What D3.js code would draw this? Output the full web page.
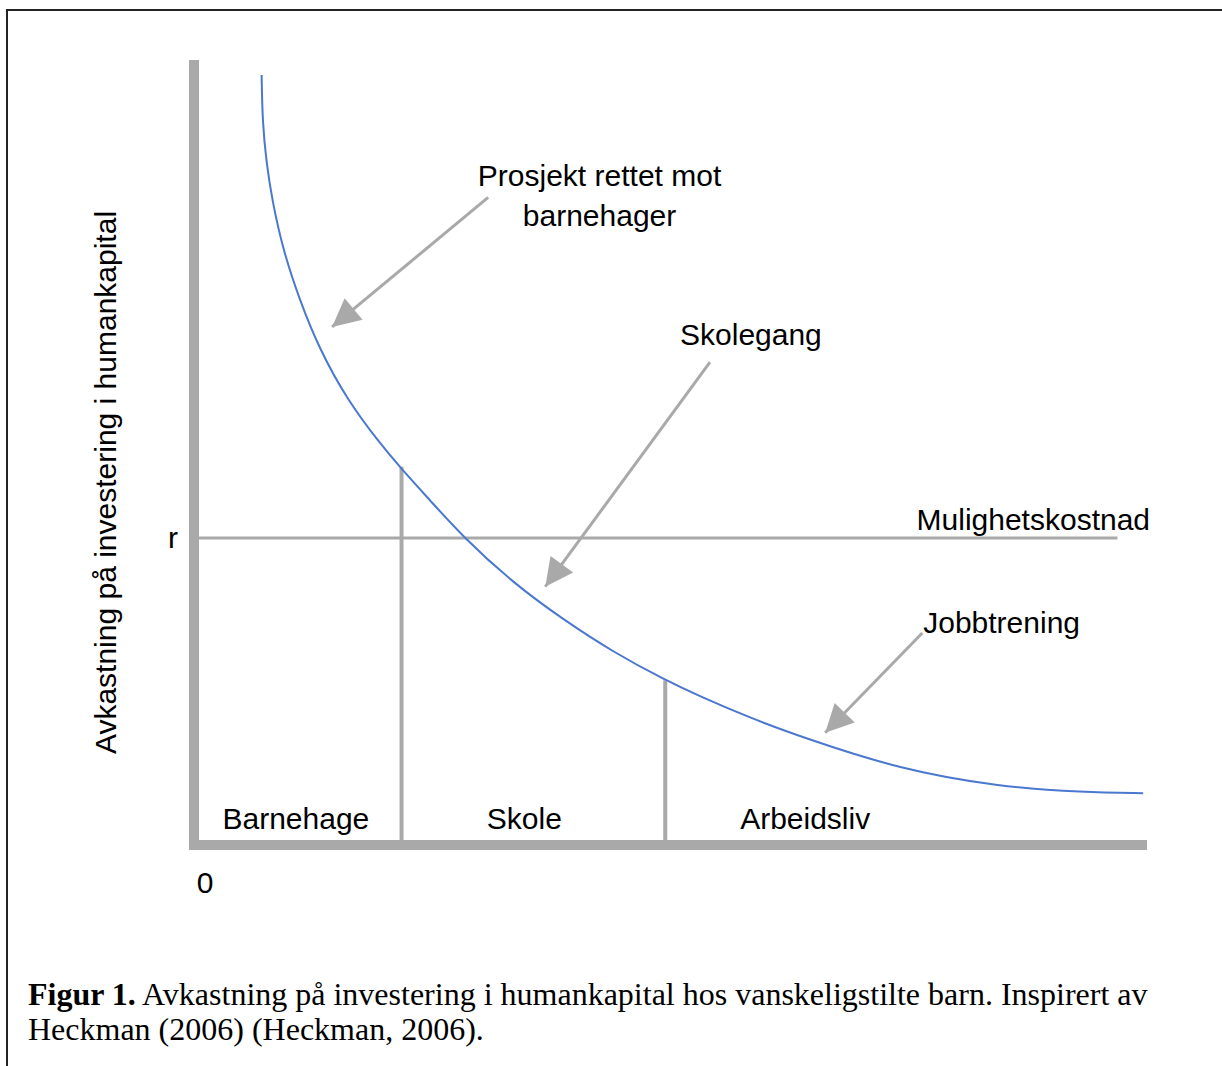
<!DOCTYPE html>
<html>
<head>
<meta charset="utf-8">
<script src="https://cdn.jsdelivr.net/npm/d3@7"></script>
<style>
  body { margin: 0; background: #fff; }
  svg text { font-family: "Liberation Sans", Arial, sans-serif; fill: #000; }
  .caption { font-family: "Liberation Serif", "Times New Roman", serif; }
</style>
</head>
<body>
<svg id="chart" width="1222" height="1066"></svg>
<script>
// curve: return on investment by age/stage (0-100 units)
const curveX = [7.1, 7.2, 7.6, 8.2, 9.35, 11.1, 13.2, 16.1, 19.5, 21.8, 24.8, 28.3, 33.5, 38.8, 44.0, 49.5, 53.2, 58.4, 63.7, 74.2, 84.7, 93.4, 99.7];
const curveY = [98.1, 92.0, 87.0, 82.2, 75.8, 69.4, 63.1, 56.7, 51.2, 47.9, 43.9, 39.2, 33.4, 28.7, 24.6, 21.0, 18.9, 16.2, 13.8, 9.6, 7.4, 6.7, 6.6];

// opportunity cost level r
const rValue = 39.1;
const rLineEnd = 97;

// stage dividers (x position, height where they meet the curve)
const dividerX = [21.8, 49.5];
const dividerTop = [48.2, 21.0];

// stage labels
const stageNames = ['Barnehage', 'Skole', 'Arbeidsliv'];
const stageCenters = [10.7, 34.7, 64.2];

// arrows: tail -> tip
const arrowTail = [[30.9, 82.5], [54.2, 61.5], [76.5, 27.0]];
const arrowTip = [[14.5, 66.0], [36.9, 32.9], [66.3, 14.3]];

const svg = d3.select('#chart');

const xScale = d3.scaleLinear().domain([0, 100]).range([194, 1146]);
const yScale = d3.scaleLinear().domain([0, 100]).range([845, 60]);

const gray = '#a9a9a9';
const fontSize = '30px';

// page frame
svg.append('path')
  .attr('d', 'M7,1066 V10 H1222')
  .attr('fill', 'none')
  .attr('stroke', '#222')
  .attr('stroke-width', 2);

// arrow head marker
svg.append('defs')
  .append('marker')
    .attr('id', 'head')
    .attr('viewBox', '0 0 10 10')
    .attr('refX', 10)
    .attr('refY', 5)
    .attr('markerUnits', 'userSpaceOnUse')
    .attr('markerWidth', 32)
    .attr('markerHeight', 28)
    .attr('orient', 'auto')
  .append('path')
    .attr('d', 'M0,0 L10,5 L0,10 Z')
    .attr('fill', gray);

// opportunity cost line
svg.append('line')
  .attr('x1', xScale(0))
  .attr('x2', xScale(rLineEnd))
  .attr('y1', yScale(rValue))
  .attr('y2', yScale(rValue))
  .attr('stroke', gray)
  .attr('stroke-width', 3);

// dividers
svg.selectAll('.divider')
  .data(dividerX)
  .enter()
  .append('line')
    .attr('class', 'divider')
    .attr('x1', d => xScale(d))
    .attr('x2', d => xScale(d))
    .attr('y1', yScale(0))
    .attr('y2', (d, i) => yScale(dividerTop[i]))
    .attr('stroke', gray)
    .attr('stroke-width', 4);

// axes (thick gray lines)
svg.append('line')
  .attr('x1', xScale(0)).attr('x2', xScale(0))
  .attr('y1', yScale(0) + 5).attr('y2', yScale(100))
  .attr('stroke', gray)
  .attr('stroke-width', 10);
svg.append('line')
  .attr('x1', xScale(0) - 5).attr('x2', xScale(100) + 1)
  .attr('y1', yScale(0)).attr('y2', yScale(0))
  .attr('stroke', gray)
  .attr('stroke-width', 10);

// "r" tick label via axis
const yAxis = d3.axisLeft(yScale)
  .tickValues([rValue])
  .tickFormat(() => 'r')
  .tickSize(0)
  .tickPadding(16);
const yAxisG = svg.append('g')
  .attr('transform', `translate(${xScale(0)},0)`)
  .call(yAxis);
yAxisG.select('.domain').remove();
yAxisG.selectAll('text')
  .style('font-family', '"Liberation Sans", Arial, sans-serif')
  .style('font-size', fontSize)
  .attr('fill', '#000');

// origin
svg.append('text')
  .attr('x', xScale(0) + 11)
  .attr('y', 893)
  .attr('text-anchor', 'middle')
  .style('font-size', fontSize)
  .text('0');

// the curve
const points = curveX.map((d, i) => [d, curveY[i]]);
svg.append('path')
  .datum(points)
  .attr('fill', 'none')
  .attr('stroke', '#4a78cf')
  .attr('stroke-width', 2)
  .attr('d', d3.line()
    .x(d => xScale(d[0]))
    .y(d => yScale(d[1]))
    .curve(d3.curveBasis));

// arrows
svg.selectAll('.arrow')
  .data(arrowTail)
  .enter()
  .append('line')
    .attr('class', 'arrow')
    .attr('x1', d => xScale(d[0]))
    .attr('y1', d => yScale(d[1]))
    .attr('x2', (d, i) => xScale(arrowTip[i][0]))
    .attr('y2', (d, i) => yScale(arrowTip[i][1]))
    .attr('stroke', gray)
    .attr('stroke-width', 3)
    .attr('marker-end', 'url(#head)');

// stage labels
svg.selectAll('.stage')
  .data(stageNames)
  .enter()
  .append('text')
    .attr('class', 'stage')
    .attr('x', (d, i) => xScale(stageCenters[i]))
    .attr('y', yScale(2.0))
    .attr('text-anchor', 'middle')
    .style('font-size', fontSize)
    .text(d => d);

// annotation labels
const addLabel = (txt, x, y, anchor) => {
  svg.append('text')
    .attr('x', xScale(x))
    .attr('y', yScale(y))
    .attr('text-anchor', anchor)
    .style('font-size', fontSize)
    .text(txt);
};
addLabel('Prosjekt rettet mot', 42.6, 83.9, 'middle');
addLabel('barnehager', 42.6, 78.8, 'middle');
addLabel('Skolegang', 58.5, 63.7, 'middle');
addLabel('Mulighetskostnad', 75.9, 40.1, 'start');
addLabel('Jobbtrening', 76.6, 27.0, 'start');

// y axis title
svg.append('text')
  .attr('transform', `translate(116,${(yScale(100) + yScale(0)) / 2 + 30}) rotate(-90)`)
  .attr('text-anchor', 'middle')
  .style('font-size', fontSize)
  .text('Avkastning på investering i humankapital');

// caption
const cap = svg.append('text')
  .attr('class', 'caption')
  .attr('x', 28)
  .attr('y', 1005)
  .style('font-size', '32px');
cap.append('tspan').style('font-weight', 'bold').text('Figur 1.');
cap.append('tspan').text(' Avkastning på investering i humankapital hos vanskeligstilte barn. Inspirert av');
svg.append('text')
  .attr('class', 'caption')
  .attr('x', 28)
  .attr('y', 1040)
  .style('font-size', '32px')
  .text('Heckman (2006) (Heckman, 2006).');
</script>
</body>
</html>
